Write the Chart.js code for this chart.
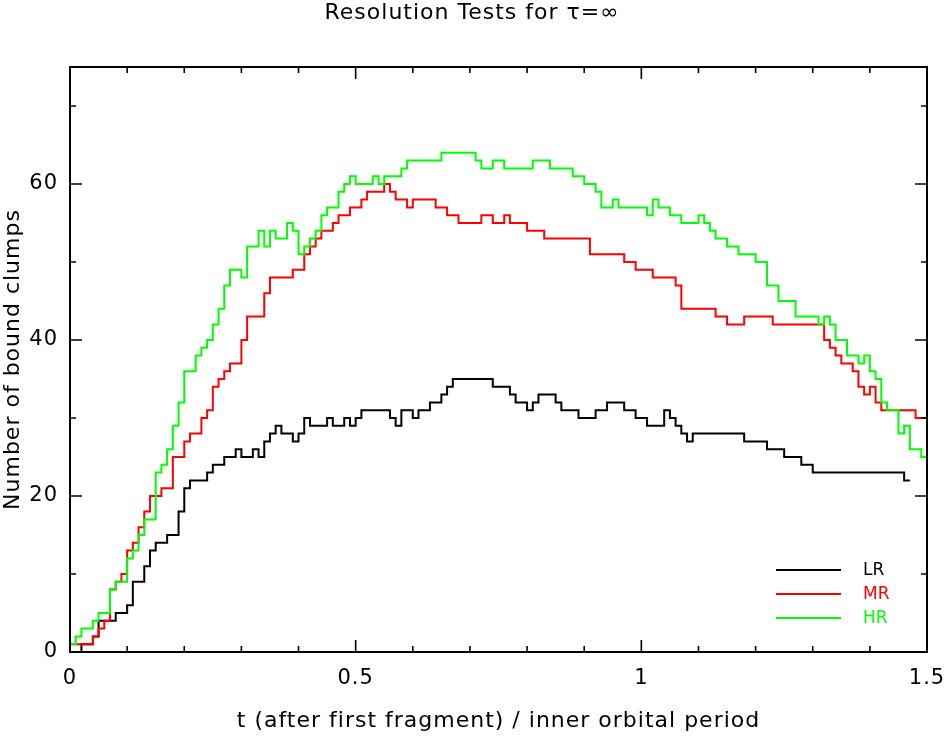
<!DOCTYPE html>
<html>
<head>
<meta charset="utf-8">
<title>Resolution Tests</title>
<script src="https://cdn.jsdelivr.net/npm/chart.js@4/dist/chart.umd.min.js"></script>
<style>
  body { margin: 0; background: #fff; }
  canvas { display: block; }
</style>
</head>
<body>
<canvas id="chart" width="945" height="738"></canvas>
<script>
// sample spacing of the runs (in inner orbital periods)
const dt = 0.01;

const seriesNames = ["LR", "MR", "HR"];
const seriesColors = ["#000000", "#ff0000", "#00ff00"];

// number of bound clumps, one value per sample
const lrClumps = [
  0, 0, 1, 1, 2, 4, 4, 4, 5, 5,
  6, 9, 9, 11, 13, 14, 14, 15, 15, 18,
  21, 22, 22, 22, 23, 24, 24, 25, 25, 26,
  25, 25, 26, 25, 27, 28, 29, 28, 28, 27,
  28, 30, 29, 29, 29, 30, 29, 29, 30, 29,
  30, 31, 31, 31, 31, 31, 30, 29, 31, 31,
  30, 31, 31, 32, 32, 33, 34, 35, 35, 35,
  35, 35, 35, 35, 34, 34, 34, 33, 32, 32,
  31, 32, 33, 33, 33, 32, 31, 31, 31, 30,
  30, 30, 31, 31, 32, 32, 32, 31, 31, 30,
  30, 29, 29, 29, 31, 30, 29, 28, 27, 28,
  28, 28, 28, 28, 28, 28, 28, 28, 27, 27,
  27, 27, 26, 26, 26, 25, 25, 25, 24, 24,
  23, 23, 23, 23, 23, 23, 23, 23, 23, 23,
  23, 23, 23, 23, 23, 23, 22
];

const mrClumps = [
  1, 1, 1, 1, 2, 3, 4, 8, 9, 10,
  13, 14, 16, 18, 20, 20, 21, 21, 25, 25,
  27, 28, 28, 30, 31, 34, 35, 36, 37, 37,
  40, 43, 43, 43, 46, 48, 48, 48, 48, 49,
  49, 51, 52, 53, 54, 54, 55, 56, 56, 57,
  57, 58, 59, 59, 59, 60, 59, 58, 58, 57,
  58, 58, 58, 58, 57, 57, 56, 56, 55, 55,
  55, 55, 56, 56, 55, 55, 56, 55, 55, 55,
  54, 54, 54, 53, 53, 53, 53, 53, 53, 53,
  53, 51, 51, 51, 51, 51, 51, 50, 50, 49,
  49, 49, 48, 48, 48, 48, 47, 44, 44, 44,
  44, 44, 44, 43, 43, 42, 42, 42, 43, 43,
  43, 43, 43, 42, 42, 42, 42, 42, 42, 42,
  42, 42, 40, 39, 38, 37, 37, 36, 34, 33,
  34, 32, 31, 31, 31, 31, 31, 31, 30, 30
];

const hrClumps = [
  1, 2, 3, 3, 4, 5, 5, 8, 9, 9,
  12, 13, 15, 17, 17, 23, 24, 26, 29, 32,
  36, 36, 38, 39, 40, 42, 44, 47, 49, 49,
  48, 52, 52, 54, 52, 54, 53, 53, 55, 54,
  51, 52, 53, 54, 56, 57, 57, 59, 60, 61,
  60, 60, 60, 61, 60, 61, 61, 61, 62, 63,
  63, 63, 63, 63, 63, 64, 64, 64, 64, 64,
  64, 63, 62, 62, 63, 63, 62, 62, 62, 62,
  62, 63, 63, 63, 62, 62, 62, 62, 61, 61,
  60, 60, 59, 57, 57, 58, 57, 57, 57, 57,
  57, 56, 58, 57, 57, 56, 56, 55, 55, 55,
  56, 55, 54, 53, 53, 52, 52, 51, 51, 51,
  50, 50, 47, 47, 45, 45, 45, 43, 43, 43,
  43, 42, 43, 42, 40, 40, 38, 38, 37, 38,
  36, 35, 32, 31, 31, 28, 29, 26, 26, 25
];

const xTickLabels = [0, 0.5, 1, 1.5];
const yTickLabels = [0, 20, 40, 60];

const FONT = "'DejaVu Sans', sans-serif";

// each value holds until the next sample, so close the last step too
function toSteps(vals) {
  const pts = vals.map((v, i) => ({ x: +(i * dt).toFixed(2), y: v }));
  pts.push({ x: +(vals.length * dt).toFixed(2), y: vals[vals.length - 1] });
  return pts;
}

const allSeries = [lrClumps, mrClumps, hrClumps];

// white page, frame, inward ticks, title and legend like the pgplot original
const decor = {
  id: "decor",
  beforeDraw(chart) {
    const ctx = chart.ctx;
    ctx.fillStyle = "#fff";
    ctx.fillRect(0, 0, chart.width, chart.height);
    // pgplot lettering is wide, spread it a little
    ctx.letterSpacing = "1px";
  },
  afterDraw(chart) {
    const { ctx, chartArea: a, scales } = chart;
    const x = scales.x, y = scales.y;
    ctx.save();
    ctx.strokeStyle = "#000";
    ctx.lineWidth = 1.6;
    ctx.beginPath();
    for (let i = 0; i <= 15; i++) {
      const px = x.getPixelForValue(i / 10);
      const len = i % 5 === 0 ? 12 : 6;
      ctx.moveTo(px, a.bottom); ctx.lineTo(px, a.bottom - len);
      ctx.moveTo(px, a.top); ctx.lineTo(px, a.top + len);
    }
    for (let v = 0; v <= y.max; v += 10) {
      const py = y.getPixelForValue(v);
      const len = v % 20 === 0 ? 12 : 6;
      ctx.moveTo(a.left, py); ctx.lineTo(a.left + len, py);
      ctx.moveTo(a.right, py); ctx.lineTo(a.right - len, py);
    }
    ctx.stroke();
    ctx.lineWidth = 2;
    ctx.strokeRect(a.left, a.top, a.right - a.left, a.bottom - a.top);

    // title
    ctx.fillStyle = "#000";
    ctx.font = "22px " + FONT;
    ctx.textAlign = "center";
    ctx.textBaseline = "middle";
    ctx.fillText("Resolution Tests for \u03c4=\u221e", 472, 13);

    // legend
    ctx.letterSpacing = "0px";
    ctx.font = "17px " + FONT;
    ctx.textAlign = "left";
    seriesNames.forEach((name, i) => {
      const ly = 570 + i * 24;
      ctx.strokeStyle = seriesColors[i];
      ctx.lineWidth = 2;
      ctx.beginPath();
      ctx.moveTo(776, ly); ctx.lineTo(841, ly);
      ctx.stroke();
      ctx.fillStyle = seriesColors[i];
      ctx.fillText(name, 863, ly + 1);
    });
    ctx.restore();
  }
};

new Chart(document.getElementById("chart"), {
  type: "line",
  data: {
    datasets: seriesNames.map((name, i) => ({
      label: name,
      data: toSteps(allSeries[i]),
      borderColor: seriesColors[i],
      borderWidth: 2,
      pointRadius: 0,
      stepped: true,
      fill: false,
      order: 2 - i
    }))
  },
  options: {
    responsive: false,
    animation: false,
    devicePixelRatio: 1,
    layout: { padding: { top: 67, right: 18, left: 0, bottom: 0 } },
    plugins: {
      legend: { display: false },
      tooltip: { enabled: false }
    },
    scales: {
      x: {
        type: "linear",
        min: 0,
        max: 1.5,
        grid: { display: false },
        border: { display: false },
        afterBuildTicks: s => { s.ticks = xTickLabels.map(v => ({ value: v })); },
        afterFit: s => { s.height = 86; s.paddingLeft = 0; s.paddingRight = 0; },
        ticks: {
          color: "#000",
          font: { family: FONT, size: 21 },
          padding: 6,
          maxRotation: 0,
          callback: v => String(v)
        },
        title: {
          display: true,
          text: "t (after first fragment) / inner orbital period",
          color: "#000",
          font: { family: FONT, size: 22 },
          padding: { top: 0, bottom: 4 }
        }
      },
      y: {
        type: "linear",
        min: 0,
        max: 75,
        grid: { display: false },
        border: { display: false },
        afterBuildTicks: s => { s.ticks = yTickLabels.map(v => ({ value: v })); },
        afterFit: s => { s.width = 70; s.paddingTop = 0; s.paddingBottom = 0; },
        ticks: {
          color: "#000",
          font: { family: FONT, size: 21 },
          padding: 4,
          callback: v => String(v)
        },
        title: {
          display: true,
          text: "Number of bound clumps",
          color: "#000",
          font: { family: FONT, size: 22 },
          padding: { top: 0, bottom: 0 }
        }
      }
    }
  },
  plugins: [decor]
});
</script>
</body>
</html>
